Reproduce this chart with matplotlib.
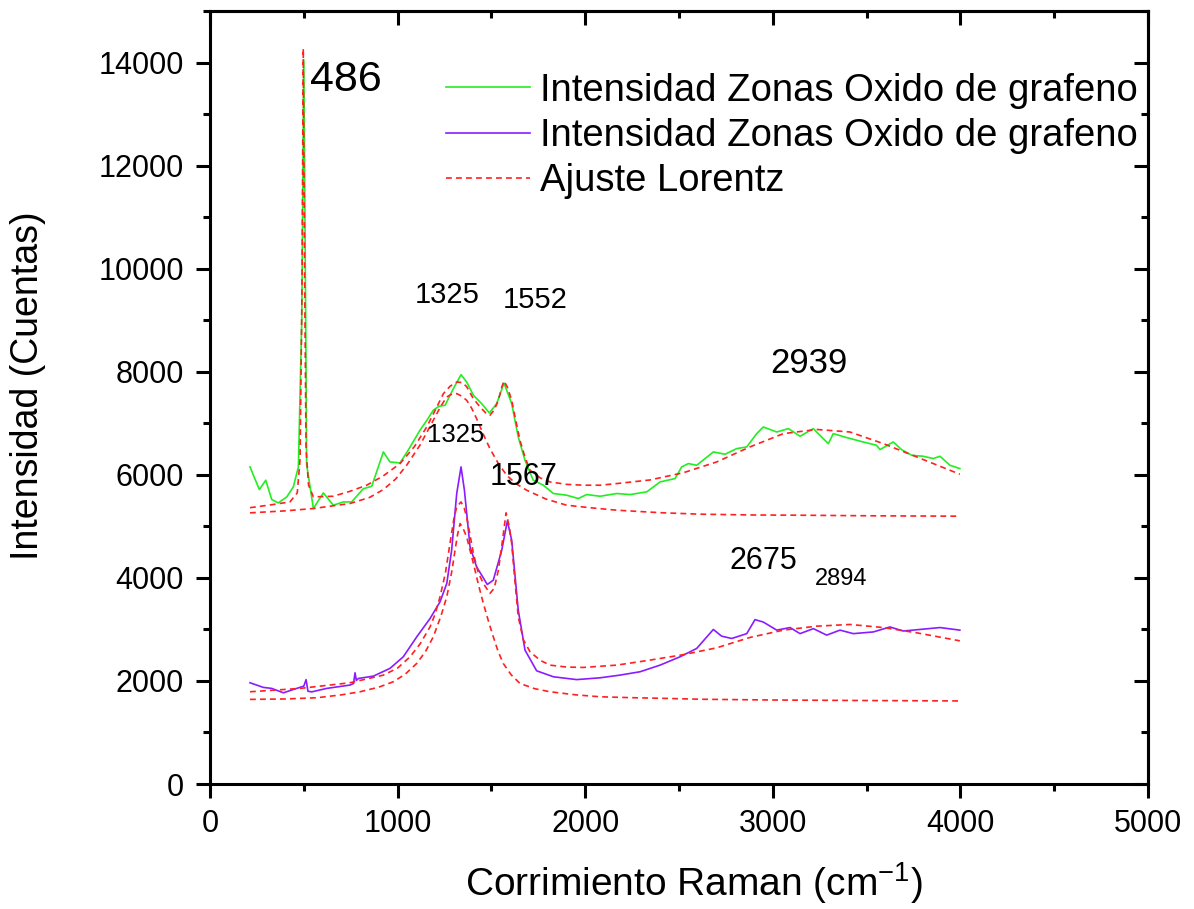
import matplotlib
matplotlib.use("Agg")
import matplotlib.pyplot as plt
import numpy as np
from matplotlib.ticker import MultipleLocator

# spectra: (raman shift, counts)
green = [(213, 6153), (263, 5714), (297, 5895), (329, 5520), (364, 5455), (409, 5571),
         (444, 5765), (471, 6153), (489, 9000), (500, 14050), (510, 9000), (515, 6200),
         (551, 5346), (604, 5649), (657, 5410), (711, 5474), (755, 5474), (817, 5730),
         (862, 5778), (924, 6444), (959, 6250), (1013, 6230), (1060, 6500), (1119, 6864),
         (1160, 7080), (1190, 7252), (1220, 7330), (1253, 7349), (1297, 7672), (1338, 7943),
         (1368, 7800), (1404, 7543), (1448, 7381), (1489, 7200), (1528, 7381), (1567, 7781),
         (1608, 7381), (1643, 6734), (1679, 6282),
         (1723, 5895), (1777, 5798), (1830, 5637), (1901, 5604), (1963, 5540), (2008, 5617),
         (2079, 5584), (2168, 5637), (2239, 5617), (2328, 5669), (2399, 5862), (2479, 5927),
         (2514, 6153), (2550, 6218), (2594, 6185), (2683, 6444), (2745, 6399), (2807, 6508),
         (2861, 6541), (2914, 6799), (2949, 6928), (3021, 6831), (3083, 6896), (3145, 6748),
         (3216, 6896), (3260, 6734), (3296, 6605), (3322, 6799), (3394, 6722), (3482, 6637),
         (3553, 6573), (3571, 6489), (3642, 6637), (3686, 6489), (3740, 6379), (3802, 6360),
         (3855, 6315), (3891, 6360), (3944, 6185), (3997, 6121)]

purple = [(213, 1965), (284, 1875), (329, 1855), (391, 1770), (462, 1855), (500, 1900),
          (512, 2026), (522, 1800), (542, 1788), (622, 1855), (746, 1920), (765, 1950),
          (773, 2158), (780, 2010), (791, 2048), (871, 2094), (959, 2243), (1030, 2468),
          (1102, 2856), (1173, 3212), (1226, 3535), (1262, 3891), (1288, 4537), (1315, 5637),
          (1338, 6153), (1356, 5701), (1386, 4602), (1421, 4214), (1478, 3872), (1510, 3956),
          (1555, 4537), (1585, 5106), (1608, 4731), (1643, 3374), (1679, 2598), (1741, 2197),
          (1830, 2081), (1954, 2026), (2079, 2061), (2185, 2113), (2292, 2178), (2399, 2307),
          (2505, 2468), (2594, 2630), (2683, 2999), (2727, 2869), (2781, 2824), (2861, 2918),
          (2905, 3190), (2949, 3143), (3021, 2986), (3092, 3036), (3145, 2918), (3216, 3015),
          (3287, 2889), (3358, 2986), (3429, 2918), (3536, 2951), (3624, 3048), (3695, 2969),
          (3784, 2999), (3891, 3036), (3997, 2986)]

# Lorentz fits
fit_up_total = [(213, 5362), (330, 5420), (426, 5474), (465, 5650), (480, 6300), (490, 9500),
                (497, 14270), (505, 9500), (512, 6500), (525, 5800), (551, 5571), (657, 5584),
                (746, 5680), (835, 5798), (924, 5980), (1013, 6218), (1090, 6550), (1155, 6928),
                (1200, 7250), (1244, 7575), (1280, 7720), (1315, 7800), (1345, 7790), (1368, 7710),
                (1400, 7500), (1439, 7316), (1470, 7200), (1492, 7155), (1515, 7260), (1537, 7446),
                (1555, 7700), (1567, 7820), (1585, 7700), (1608, 7446), (1630, 7050), (1652, 6670),
                (1680, 6330), (1706, 6089), (1760, 5940), (1812, 5862), (1900, 5815), (1990, 5798),
                (2079, 5798), (2168, 5830), (2345, 5900), (2523, 6040), (2701, 6250), (2878, 6541),
                (3056, 6799), (3234, 6880), (3411, 6831), (3589, 6605), (3767, 6347), (3997, 6011)]

fit_up_band = [(213, 5262), (400, 5300), (551, 5346), (746, 5443), (850, 5560), (924, 5714),
               (990, 5920), (1048, 6185), (1120, 6580), (1190, 7058), (1230, 7330), (1262, 7510),
               (1290, 7570), (1315, 7575), (1340, 7530), (1368, 7446), (1395, 7290), (1421, 7090),
               (1455, 6800), (1492, 6508), (1535, 6230), (1581, 5992), (1630, 5830), (1688, 5701),
               (1790, 5530), (1901, 5410), (2030, 5360), (2168, 5313), (2400, 5265), (2612, 5236),
               (2900, 5220), (3145, 5216), (3500, 5205), (3997, 5197)]

fit_low_total = [(213, 1790), (480, 1855), (746, 1965), (924, 2113), (1000, 2250), (1066, 2468),
                 (1120, 2720), (1173, 3050), (1200, 3300), (1226, 3632), (1255, 4100), (1279, 4666),
                 (1300, 5150), (1315, 5377), (1338, 5474), (1355, 5350), (1368, 5184), (1385, 4850),
                 (1404, 4473), (1430, 4100), (1457, 3891), (1492, 3697), (1515, 3800), (1537, 4150),
                 (1558, 4700), (1578, 5262), (1595, 5000), (1608, 4666), (1625, 3950), (1643, 3244),
                 (1670, 2800), (1706, 2565), (1760, 2400), (1812, 2307), (1900, 2270), (1990, 2262),
                 (2168, 2307), (2345, 2404), (2523, 2510), (2701, 2643), (2878, 2844), (3056, 2986),
                 (3234, 3063), (3411, 3096), (3589, 3036), (3767, 2934), (3997, 2778)]

fit_low_band = [(213, 1642), (400, 1650), (569, 1674), (700, 1730), (800, 1790), (900, 1880),
                (977, 1984), (1040, 2130), (1102, 2340), (1150, 2580), (1190, 2856), (1230, 3250),
                (1262, 3632), (1290, 4150), (1306, 4537), (1320, 4850), (1333, 5054), (1350, 4950),
                (1368, 4795), (1385, 4550), (1404, 4279), (1430, 3880), (1457, 3503), (1485, 3150),
                (1510, 2856), (1535, 2580), (1563, 2340), (1605, 2120), (1652, 1952), (1730, 1850),
                (1812, 1790), (1950, 1730), (2079, 1693), (2250, 1675), (2434, 1661), (2612, 1645),
                (3000, 1630), (3500, 1620), (3997, 1612)]

# peak labels: (text, x, y, size)
peak_labels = [("486", 533, 13457, 31), ("1325", 1093, 9327, 21), ("1552", 1562, 9230, 21),
               ("2939", 2985, 7970, 25), ("1325", 1157, 6637, 18.5), ("1567", 1492, 5798, 22),
               ("2675", 2767, 4169, 22), ("2894", 3225, 3859, 17)]

legend_labels = ["Intensidad Zonas Oxido de grafeno", "Intensidad Zonas Oxido de grafeno",
                 "Ajuste Lorentz"]

plt.rcParams['font.family'] = ['Liberation Sans', 'DejaVu Sans']
plt.rcParams['mathtext.fontset'] = 'custom'
plt.rcParams['mathtext.rm'] = 'Liberation Sans'
plt.rcParams['mathtext.it'] = 'Liberation Sans'

GREEN = '#22ee22'
PURPLE = '#8a1cff'
RED = '#ff2020'

fig = plt.figure(figsize=(11.94, 9.09), dpi=100)
ax = fig.add_axes([0.1759, 0.1375, 0.7856, 0.8504])


def xy(pairs):
    a = np.array(pairs, dtype=float)
    return a[:, 0], a[:, 1]


dash = dict(color=RED, lw=1.2, linestyle=(0, (3.5, 2.5)))
ax.plot(*xy(green), color=GREEN, lw=1.2, label=legend_labels[0])
ax.plot(*xy(purple), color=PURPLE, lw=1.2, label=legend_labels[1])
ax.plot(*xy(fit_up_total), label=legend_labels[2], **dash)
ax.plot(*xy(fit_up_band), **dash)
ax.plot(*xy(fit_low_total), **dash)
ax.plot(*xy(fit_low_band), **dash)

for txt, x, y, size in peak_labels:
    ax.text(x, y, txt, fontsize=size, ha='left', va='baseline')

ax.set_xlim(0, 5000)
ax.set_ylim(0, 15000)
ax.xaxis.set_major_locator(MultipleLocator(1000))
ax.xaxis.set_minor_locator(MultipleLocator(500))
ax.yaxis.set_major_locator(MultipleLocator(2000))
ax.yaxis.set_minor_locator(MultipleLocator(1000))

for s in ax.spines.values():
    s.set_linewidth(2.2)
ax.tick_params(which='major', direction='out', length=10, width=2.2, labelsize=22)
ax.tick_params(axis='y', which='major', pad=9)
ax.tick_params(axis='x', which='major', pad=8)
ax.tick_params(which='minor', direction='out', length=5, width=2.2)

# inward ticks on top and right
top = ax.secondary_xaxis('top')
top.xaxis.set_major_locator(MultipleLocator(1000))
top.xaxis.set_minor_locator(MultipleLocator(500))
top.tick_params(which='major', direction='in', length=10, width=2.2, labeltop=False)
top.tick_params(which='minor', direction='in', length=5, width=2.2)
right = ax.secondary_yaxis('right')
right.yaxis.set_major_locator(MultipleLocator(2000))
right.yaxis.set_minor_locator(MultipleLocator(1000))
right.tick_params(which='major', direction='in', length=10, width=2.2, labelright=False)
right.tick_params(which='minor', direction='in', length=5, width=2.2)
for sec in (top, right):
    for s in sec.spines.values():
        s.set_linewidth(2.2)

ax.set_xlabel('Corrimiento Raman (cm$^{-1}$)', fontsize=28)
ax.set_ylabel('Intensidad (Cuentas)', fontsize=27)
ax.xaxis.set_label_coords(0.516, -0.098)
ax.yaxis.set_label_coords(-0.175, 0.515)

ax.legend(loc='upper left', bbox_to_anchor=(0.2516, 0.92), frameon=False, fontsize=27.5,
          handlelength=2.2, handletextpad=0.26, labelspacing=0.24, borderpad=0,
          borderaxespad=0)

fig.savefig('out.png', dpi=100)
